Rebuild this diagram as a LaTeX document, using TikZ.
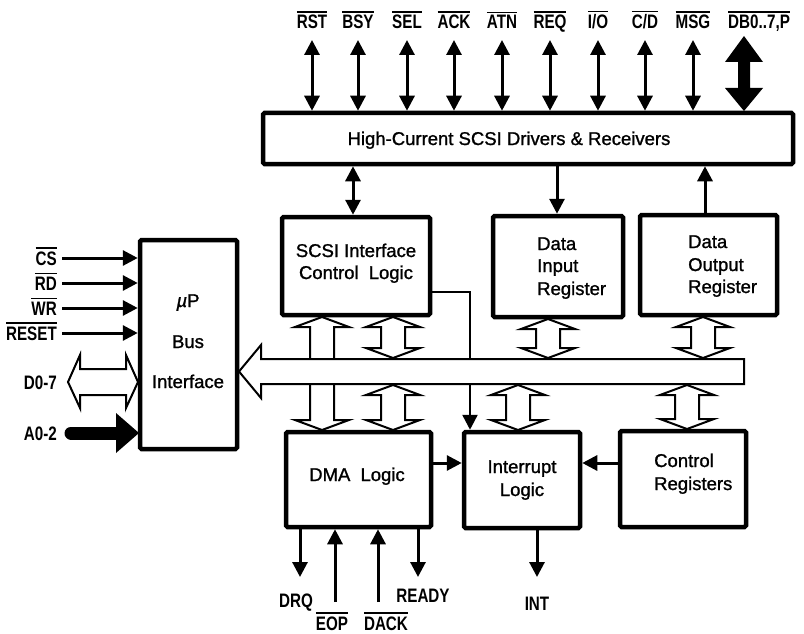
\documentclass[tikz,border=0pt]{standalone}
\usepackage{fontspec}
\setmainfont{Liberation Sans}
\newfontfamily\boxfont{Liberation Sans}[FakeBold=1.2]
\newfontfamily\lblfont{Liberation Sans}[FakeStretch=0.78]
\usetikzlibrary{arrows.meta,calc}
\newcommand\ovl[1]{\leavevmode\vbox{\hrule height 1.5pt\vskip 2.5pt\hbox{#1}}}
% hollow vertical double arrow: x, y of top tip, y of bottom tip (pixel units, y downward)
\newcommand\hud[3]{%
  \draw[hollow] (#1,#2) -- ({#1+27},{#2+10}) -- ({#1+12},{#2+10}) -- ({#1+12},{#3-10}) -- ({#1+27},{#3-10}) -- (#1,#3) -- ({#1-27},{#3-10}) -- ({#1-12},{#3-10}) -- ({#1-12},{#2+10}) -- ({#1-27},{#2+10}) -- cycle;}
\tikzset{
  box/.style={draw, line width=4.5pt, rounded corners=1.5pt, fill=white, outer sep=2.25pt, inner sep=0pt},
  btxt/.style={font=\boxfont\fontsize{18.5}{22}\selectfont, inner sep=0pt},
  lbl/.style={font=\lblfont\bfseries\fontsize{19.5}{21}\selectfont, inner sep=0pt},
  sig/.style={line width=3pt, -{Triangle[length=15pt,width=15pt]}},
  sigb/.style={line width=3pt, {Triangle[length=15pt,width=15pt]}-{Triangle[length=15pt,width=15pt]}},
  wire/.style={line width=2.5pt, -{Triangle[length=15pt,width=15pt]}},
  hollow/.style={draw, line width=2pt, fill=white, line join=miter},
}
\begin{document}
\begin{tikzpicture}[x=1pt,y=-1pt]
\useasboundingbox (0,0) rectangle (804,634);

% ---------- boxes ----------
\node[box, minimum width=530pt, minimum height=51pt]  (drv)  at (528,138.5) {};
\node[box, minimum width=148pt, minimum height=98pt]  (scsi) at (356,266) {};
\node[box, minimum width=130pt, minimum height=101pt] (din)  at (558,266.5) {};
\node[box, minimum width=137pt, minimum height=100pt] (dout) at (708.5,265) {};
\node[box, minimum width=97pt,  minimum height=209pt] (mpu)  at (188.5,344.5) {};
\node[box, minimum width=145pt, minimum height=95pt]  (dma)  at (358.5,479.5) {};
\node[box, minimum width=116pt, minimum height=96pt]  (intr) at (522,480) {};
\node[box, minimum width=126pt, minimum height=96pt]  (ctrl) at (683,479) {};

% ---------- box texts ----------
\node[btxt, anchor=base] (tdrv) at (509,145) {High-Current SCSI Drivers \& Receivers};
\node[btxt, anchor=base] (tscsi1) at (356,257) {SCSI Interface};
\node[btxt, anchor=base] (tscsi2) at (356,279) {Control\hspace{5pt} Logic};
\node[btxt, anchor=base west] (tdin1) at (537,250) {Data};
\node[btxt, anchor=base west] (tdin2) at (537,272) {Input};
\node[btxt, anchor=base west] (tdin3) at (537,295) {Register};
\node[btxt, anchor=base west] (tdout1) at (688,248) {Data};
\node[btxt, anchor=base west] (tdout2) at (688,271) {Output};
\node[btxt, anchor=base west] (tdout3) at (688,293) {Register};
\node[btxt, anchor=base] (tmpu1) at (188,307) {{\itshape µ}P};
\node[btxt, anchor=base] (tmpu2) at (188,348) {Bus};
\node[btxt, anchor=base] (tmpu3) at (188,388) {Interface};
\node[btxt, anchor=base] (tdma) at (357,481) {DMA\hspace{5pt} Logic};
\node[btxt, anchor=base] (tint1) at (522,473) {Interrupt};
\node[btxt, anchor=base] (tint2) at (522,496) {Logic};
\node[btxt, anchor=base west] (tctl1) at (654,467) {Control};
\node[btxt, anchor=base west] (tctl2) at (654,490) {Registers};

% ---------- SCSI bus signals ----------
\foreach \x/\n/\t in {312/rst/RST, 358/bsy/BSY, 407/sel/SEL, 454/ack/ACK, 502/atn/ATN,
                      550/req/REQ, 598/io/{I/O}, 645/cd/{C/D}, 693/msg/MSG}{
  \node[lbl, anchor=base] (\n) at (\x,29) {\ovl{\t}};
  \coordinate (\n a) at (\x,40);
  \draw[sigb] (\n a) -- (\n a |- drv.north);
}
\node[lbl, anchor=base west] (db) at (728,29) {\ovl{DB0..7,P}};
\fill (744,36) -- (763,62) -- (750,62) -- (750,88) -- (763,88) -- (744,111)
      -- (725,88) -- (738,88) -- (738,62) -- (725,62) -- cycle;

% ---------- driver connections ----------
\draw[sigb] (353,0 |- drv.south) -- (353,0 |- scsi.north);
\draw[sig] (557,0 |- drv.south) -- (557,0 |- din.north);
\draw[sig] (705,0 |- dout.north) -- (705,0 |- drv.south);

% ---------- items crossing the internal bus ----------
\hud{322}{317}{430}
\draw[wire] (scsi.east |- 0,292) -- (470,292) -- (470,0 |- intr.north);

% ---------- internal bus ----------
\draw[hollow] (239,371.5) -- (261,345) -- (261,359) -- (744,359) -- (744,384)
      -- (261,384) -- (261,398) -- cycle;

\hud{393}{317}{358}
\hud{548}{319}{358}
\hud{703}{317}{358}
\hud{393}{385}{430}
\hud{518}{385}{430}
\hud{687}{385}{429}

% ---------- microprocessor side ----------
\foreach \y/\n/\t in {258/cs/CS, 283/rd/RD, 308/wr/WR, 333/rs/RESET}{
  \node[lbl, anchor=base east] (\n) at (57,{\y+7}) {\ovl{\t}};
  \coordinate (\n a) at (62,\y);
  \draw[sig] (\n a) -- (\n a -| mpu.west);
}
\node[lbl, anchor=base east] (d07) at (57,389) {D0-7};
\draw[hollow] (68,382) -- (80,355) -- (80,369) -- (126,369) -- (126,355) -- (138,382)
      -- (126,408) -- (126,395) -- (80,395) -- (80,408) -- cycle;
\node[lbl, anchor=base east] (a02) at (57,440) {A0-2};
\draw[line width=13pt, line cap=round] (71,433) -- (118,433);
\fill (116,413) -- (139,433) -- (116,453) -- cycle;

% ---------- lower connections ----------
\coordinate (ly) at (0,463);
\draw[sig] (ly -| dma.east) -- (ly -| intr.west);
\draw[sig] (ly -| ctrl.west) -- (ly -| intr.east);

\coordinate (drqe) at (300,577);
\draw[sig] (drqe |- dma.south) -- (drqe);
\node[lbl, anchor=base] (drq) at (296,607) {DRQ};
\coordinate (eops) at (335,602);
\draw[sig] (eops) -- (eops |- dma.south);
\node[lbl, anchor=base] (eop) at (332,630) {\ovl{EOP}};
\coordinate (dacks) at (378,602);
\draw[sig] (dacks) -- (dacks |- dma.south);
\node[lbl, anchor=base] (dack) at (386,630) {\ovl{DACK}};
\coordinate (readye) at (418,577);
\draw[sig] (readye |- dma.south) -- (readye);
\node[lbl, anchor=base] (ready) at (423,602) {READY};
\coordinate (inte) at (537,577);
\draw[sig] (inte |- intr.south) -- (inte);
\node[lbl, anchor=base] (int) at (537,610) {INT};
\end{tikzpicture}
\end{document}
